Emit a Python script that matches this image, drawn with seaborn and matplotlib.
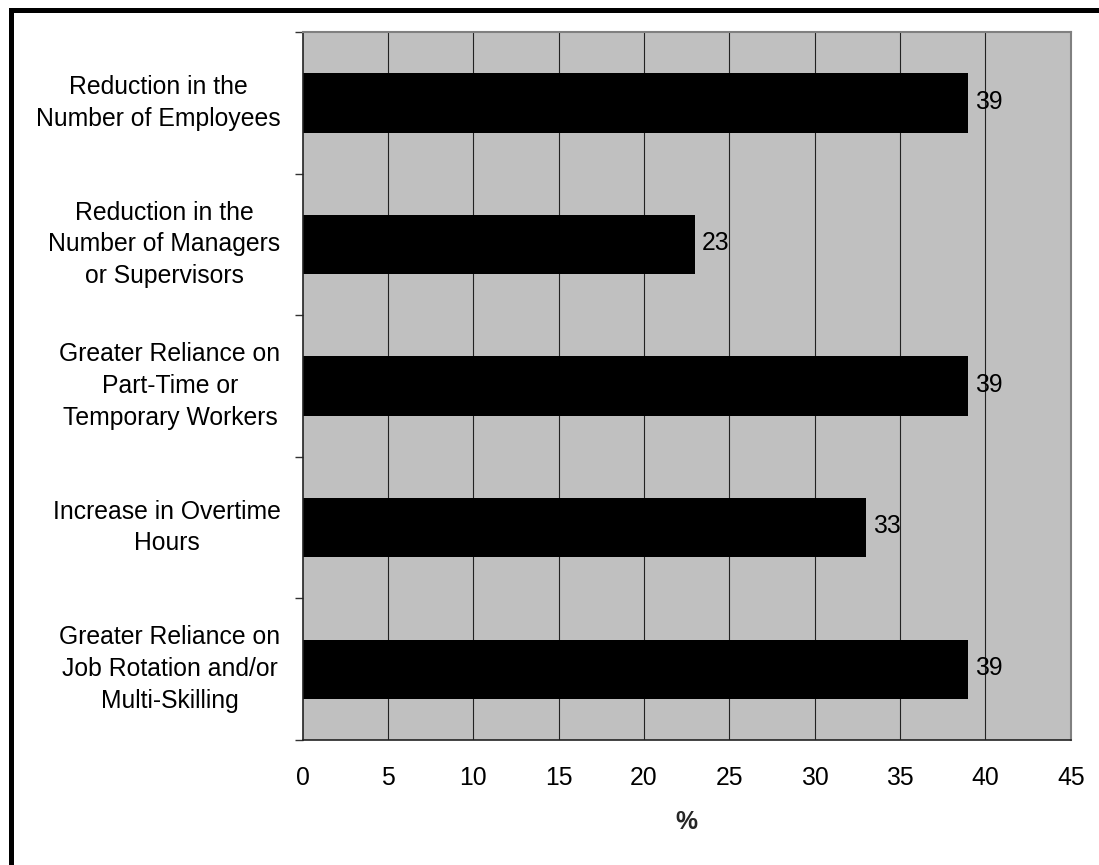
import matplotlib
matplotlib.use("Agg")
import matplotlib.pyplot as plt
import seaborn as sns
import pandas as pd
from matplotlib.lines import Line2D
from matplotlib.transforms import ScaledTranslation

categories = [
    "Reduction in the\nNumber of Employees",
    "Reduction in the\nNumber of Managers\nor Supervisors",
    "Greater Reliance on\nPart-Time or\nTemporary Workers",
    "Increase in Overtime\nHours",
    "Greater Reliance on\nJob Rotation and/or\nMulti-Skilling",
]
values = [39, 23, 39, 33, 39]
x_ticks = [0, 5, 10, 15, 20, 25, 30, 35, 40, 45]
x_label = "%"

sns.set_theme(style="white")
plt.rcParams["font.family"] = ["Liberation Sans", "DejaVu Sans"]

df = pd.DataFrame({"category": categories, "value": values})

W, H = 1099, 865
fig = plt.figure(figsize=(W / 100, H / 100), dpi=100)
ax = fig.add_axes([302.7 / W, 1 - 740 / H, (1070.7 - 302.7) / W, (740 - 32.3) / H])

sns.barplot(data=df, y="category", x="value", orient="h", color="black",
            saturation=1, width=0.42, ax=ax, edgecolor="black", linewidth=0)

ax.set_facecolor("#C0C0C0")
ax.set_xlim(0, 45)
ax.set_ylim(4.5, -0.5)
ax.set_xticks(x_ticks)
ax.set_xticklabels([str(t) for t in x_ticks])
ax.set_axisbelow(True)
ax.grid(False)
for t in x_ticks[1:-1]:
    ax.axvline(t, color="#222222", linewidth=0.8, zorder=0.5)

fs = 17.8
ax.tick_params(axis="x", which="major", direction="out", length=5.8, width=1,
               color="#333333", labelsize=fs, pad=13, labelcolor="black")
ax.set_yticks(range(len(categories)))
ax.set_yticklabels(categories)
ax.set_yticks([i - 0.5 for i in range(len(categories) + 1)], minor=True)
ax.tick_params(axis="y", which="major", length=0, labelsize=fs, pad=16, labelcolor="black")
ax.tick_params(axis="y", which="minor", direction="out", length=5.8, width=1, color="#333333", left=True)
shift = ScaledTranslation(0, 6.5 / 100, fig.dpi_scale_trans)
for t in ax.get_yticklabels():
    t.set_multialignment("center")
    t.set_linespacing(1.4)
    t.set_transform(t.get_transform() + shift)

ax.set_ylabel("")
ax.set_xlabel(x_label, fontsize=fs, fontweight="bold", labelpad=14)

for side in ["left", "bottom"]:
    ax.spines[side].set_color("#222222")
    ax.spines[side].set_linewidth(1.2)
    ax.spines[side].set_visible(True)
for side in ["top", "right"]:
    ax.spines[side].set_color("#808080")
    ax.spines[side].set_linewidth(1.5)
    ax.spines[side].set_visible(True)

for i, v in enumerate(values):
    ax.annotate(str(v), xy=(v, i), xytext=(5, 1), textcoords="offset points",
                va="center", ha="left", fontsize=fs, color="black")

# outer chart border (left and top edges visible)
bx = 10.8 / W
by = 1 - 9.8 / H
fig.add_artist(Line2D([bx, bx], [0, by], transform=fig.transFigure, color="black",
                      linewidth=3.6, solid_capstyle="projecting"))
fig.add_artist(Line2D([bx, 1], [by, by], transform=fig.transFigure, color="black",
                      linewidth=3.6, solid_capstyle="projecting"))

fig.savefig("out.png", dpi=100, facecolor="white")
